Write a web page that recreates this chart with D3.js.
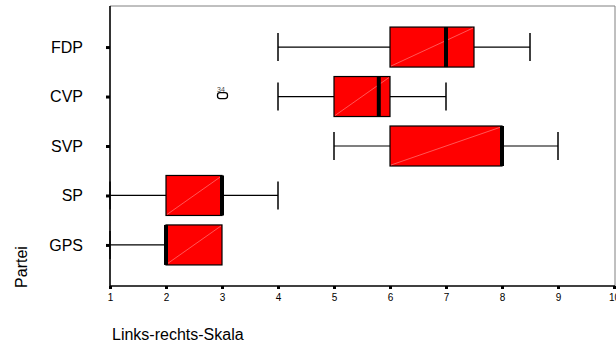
<!DOCTYPE html>
<html>
<head>
<meta charset="utf-8">
<script src="https://cdn.jsdelivr.net/npm/d3@7"></script>
<style>
  body { margin: 0; background: #fff; }
  svg { display: block; font-family: "Liberation Sans", Arial, sans-serif; }
</style>
</head>
<body>
<svg id="chart" width="616" height="344"></svg>
<script>

var parties = ["FDP", "CVP", "SVP", "SP", "GPS"];
var whiskerLow  = [4, 4, 5, 1, 1];
var quart1      = [6, 5, 6, 2, 2];
var medians     = [7, 5.8, 8, 3, 2];
var quart3      = [7.5, 6, 8, 3, 3];
var whiskerHigh = [8.5, 7, 9, 4, 3];
var outliers = [{party: "CVP", value: 3, label: "34"}];
var xTicks = [1, 2, 3, 4, 5, 6, 7, 8, 9, 10];

function setup(){
    var svg = d3.select("#chart");
    var plot = {left: 110, right: 615, top: 6, bottom: 286};

    var x = d3.scaleLinear().domain([1, 10]).range([plot.left, plot.right - 1]);
    var y = d3.scalePoint().domain(parties).range([plot.top, plot.bottom]).padding(0.83);

    var boxes = parties.map((p, i) => ({
        party: p, lo: whiskerLow[i], q1: quart1[i], med: medians[i], q3: quart3[i], hi: whiskerHigh[i]
    }));

    // frame (top + right, grey)
    svg.append("path")
        .attr("d", `M${plot.left},${plot.top}H${plot.right}V${plot.bottom}`)
        .attr("fill", "none").attr("stroke", "#808080").attr("stroke-width", 1);

    var g = svg.append("g");
    var boxH = 40, capH = 28;

    // whiskers
    g.selectAll("line.whisk").data(boxes).join("line")
        .attr("x1", d => x(d.lo)).attr("x2", d => x(d.hi))
        .attr("y1", d => y(d.party)).attr("y2", d => y(d.party))
        .attr("stroke", "#000").attr("stroke-width", 1.2);

    g.selectAll("line.capL").data(boxes.filter(d => d.lo < d.q1)).join("line")
        .attr("x1", d => x(d.lo)).attr("x2", d => x(d.lo))
        .attr("y1", d => y(d.party) - capH / 2).attr("y2", d => y(d.party) + capH / 2)
        .attr("stroke", "#000").attr("stroke-width", 1.5);
    g.selectAll("line.capR").data(boxes.filter(d => d.hi > d.q3)).join("line")
        .attr("x1", d => x(d.hi)).attr("x2", d => x(d.hi))
        .attr("y1", d => y(d.party) - capH / 2).attr("y2", d => y(d.party) + capH / 2)
        .attr("stroke", "#000").attr("stroke-width", 1.5);

    // boxes
    g.selectAll("rect.box").data(boxes).join("rect")
        .attr("x", d => x(d.q1)).attr("y", d => y(d.party) - boxH / 2)
        .attr("width", d => x(d.q3) - x(d.q1)).attr("height", boxH)
        .attr("fill", "#ff0000").attr("stroke", "#000").attr("stroke-width", 1.2);

    // faint diagonal
    g.selectAll("line.diag").data(boxes).join("line")
        .attr("x1", d => x(d.q1) + 1).attr("y1", d => y(d.party) + boxH / 2 - 1)
        .attr("x2", d => x(d.q3) - 1).attr("y2", d => y(d.party) - boxH / 2 + 1)
        .attr("stroke", "#ff9090").attr("stroke-width", 0.6);

    // medians
    g.selectAll("line.med").data(boxes).join("line")
        .attr("x1", d => x(d.med)).attr("x2", d => x(d.med))
        .attr("y1", d => y(d.party) - boxH / 2).attr("y2", d => y(d.party) + boxH / 2)
        .attr("stroke", "#000").attr("stroke-width", 4);

    // outliers
    var out = g.selectAll("g.out").data(outliers).join("g")
        .attr("transform", d => `translate(${x(d.value) + 0.5},${y(d.party) - 1})`);
    out.append("rect")
        .attr("x", -5).attr("y", -3).attr("width", 10).attr("height", 6)
        .attr("rx", 2.5).attr("fill", "#fff").attr("stroke", "#000").attr("stroke-width", 1.3);
    out.append("text")
        .attr("x", -5.5).attr("y", -3.5)
        .attr("font-size", 7).attr("fill", "#444")
        .text(d => d.label);

    // left axis
    var yAxis = svg.append("g")
        .attr("transform", `translate(${plot.left},0)`)
        .call(d3.axisLeft(y).tickSize(4).tickPadding(23));
    yAxis.select(".domain").attr("d", `M0,${plot.top}V${plot.bottom}`).attr("stroke-width", 1.6);
    yAxis.selectAll(".tick line").attr("stroke-width", 3);
    yAxis.selectAll("text").attr("font-size", 16).attr("font-family", "Liberation Sans, Arial, sans-serif");

    // bottom axis
    var xAxis = svg.append("g")
        .attr("transform", `translate(0,${plot.bottom})`)
        .call(d3.axisBottom(x).tickValues(xTicks).tickSize(3).tickPadding(5).tickFormat(d3.format("d")));
    xAxis.select(".domain").attr("d", `M${plot.left},0H${plot.right}`).attr("stroke-width", 1.6);
    xAxis.selectAll(".tick line").attr("stroke-width", 3);
    xAxis.selectAll("text").attr("font-size", 10).attr("font-family", "Liberation Sans, Arial, sans-serif");

    // titles
    svg.append("text")
        .attr("transform", "translate(27,267) rotate(-90)")
        .attr("text-anchor", "middle")
        .attr("font-size", 16)
        .text("Partei");
    svg.append("text")
        .attr("x", 112).attr("y", 340)
        .attr("font-size", 16)
        .text("Links-rechts-Skala");
}

window.addEventListener("load", setup);
</script>
</body>
</html>
